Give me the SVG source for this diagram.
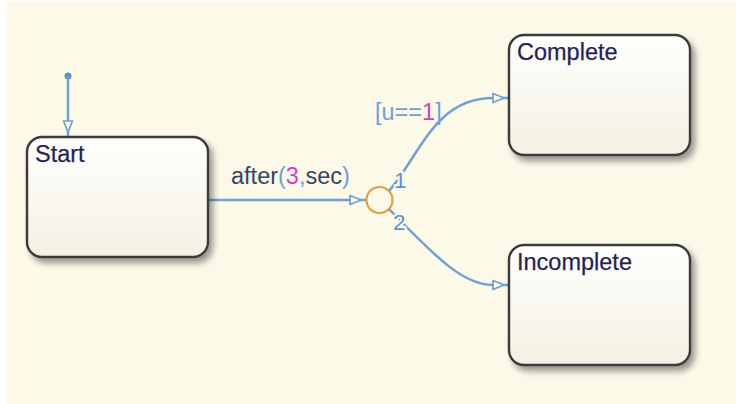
<svg xmlns="http://www.w3.org/2000/svg" width="736" height="404" viewBox="0 0 736 404">
<style>
.state{fill:url(#boxgrad);stroke:#3a3a3a;stroke-width:2.4;filter:url(#shadow)}
.name{font-family:"Liberation Sans",Arial,sans-serif;font-size:23.5px;fill:#2a1f55;stroke:#2a1f55;stroke-width:0.25}
.tr{fill:none;stroke:#6f9fd6;stroke-width:2.5}
.lbl{font-family:"Liberation Sans",Arial,sans-serif;font-size:23.5px}
.dark{fill:#33465f}
.lb{fill:#6f9fd6}
.mg{fill:#d43fc0}
.num{font-family:"Liberation Sans",Arial,sans-serif;font-size:22.5px;fill:#5f93d3;stroke:#fdf9e9;stroke-width:4;paint-order:stroke}
</style>
<defs>
<linearGradient id="boxgrad" x1="0" y1="0" x2="0" y2="1">
<stop offset="0" stop-color="#fefefd"/>
<stop offset="1" stop-color="#f4f1e3"/>
</linearGradient>
<filter id="shadow" x="-10%" y="-10%" width="130%" height="140%">
<feGaussianBlur in="SourceAlpha" stdDeviation="3"/>
<feOffset dx="4" dy="5" result="b"/>
<feComponentTransfer><feFuncA type="linear" slope="0.4"/></feComponentTransfer>
<feMerge><feMergeNode/><feMergeNode in="SourceGraphic"/></feMerge>
</filter>
<marker id="arr" markerUnits="userSpaceOnUse" markerWidth="20" markerHeight="12" viewBox="0 0 20 12" refX="17" refY="6" orient="auto" overflow="visible">
<path d="M1,1.5 L12,6 L1,10.5 Z" fill="#fdf9e9" stroke="#6f9fd6" stroke-width="1.7" stroke-linejoin="round"/>
</marker>
</defs>
<rect x="0" y="0" width="736" height="404" fill="#ffffff"/>
<rect x="7" y="1" width="729" height="403" fill="#fdf9e9"/>

<g id="connectors">
<circle cx="68" cy="76" r="3.5" fill="#5b8fd0"/>
<path class="tr" d="M68,77 L68,137" marker-end="url(#arr)"/>
<path class="tr" d="M208,200 L366,200" marker-end="url(#arr)"/>
<path class="tr" d="M389,191 C420,155 435,98 493,98 L509,98" marker-end="url(#arr)"/>
<path class="tr" d="M389,209 C440,262 465,285 493,285 L509,285" marker-end="url(#arr)"/>
<text class="num" x="394" y="188">1</text>
<text class="num" x="393" y="230">2</text>
<text class="lbl" x="231" y="184"><tspan class="dark">after</tspan><tspan class="lb">(</tspan><tspan class="mg">3</tspan><tspan class="lb">,</tspan><tspan class="dark">sec</tspan><tspan class="lb">)</tspan></text>
<text class="lbl" x="375" y="120"><tspan class="lb">[u==</tspan><tspan class="mg">1</tspan><tspan class="lb">]</tspan></text>
</g>

<g id="Start">
<rect class="state" x="27" y="137" width="181" height="120" rx="15"/>
<text class="name" x="35" y="162">Start</text>
</g>

<g id="junction">
<circle cx="379.5" cy="200" r="13" fill="#fdf9e9" stroke="#dba13f" stroke-width="2.2"/>
</g>

<g id="Complete">
<rect class="state" x="509" y="35" width="181" height="120" rx="15"/>
<text class="name" x="517" y="60">Complete</text>
</g>

<g id="Incomplete">
<rect class="state" x="509" y="245" width="181" height="120" rx="15"/>
<text class="name" x="517" y="270">Incomplete</text>
</g>
</svg>
